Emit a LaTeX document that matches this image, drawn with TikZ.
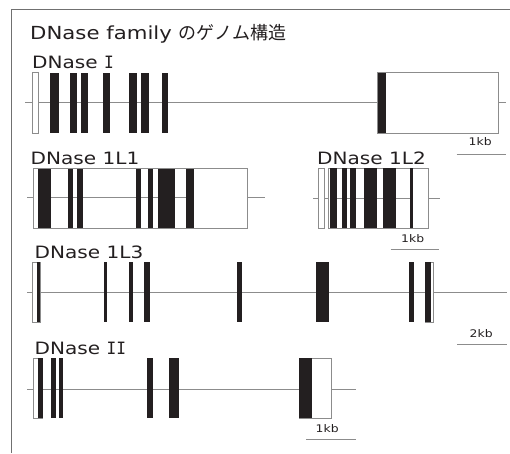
\documentclass[tikz,border=0pt]{standalone}
\usepackage{fontspec}
\setmainfont[FakeStretch=1.18]{DejaVu Sans}
\newfontfamily\jp{Noto Sans CJK JP}
\newfontfamily\romI[FakeStretch=0.95]{DejaVu Sans Mono}
\newcommand{\serifI}{{\romI I}}
\definecolor{ink}{HTML}{231F20}
\definecolor{intron}{HTML}{8C8C8C}
\definecolor{frame}{HTML}{707070}
\tikzset{
  exon/.style={fill=ink, draw=none},
  utr/.style={draw=intron, fill=white, line width=0.7pt},
  genebox/.style={draw=intron, line width=0.7pt},
  intronline/.style={draw=intron, line width=0.9pt},
  scalebar/.style={draw=intron, line width=0.9pt},
  genelabel/.style={anchor=base west, inner sep=0pt, text=ink, font=\fontsize{17}{20}\selectfont},
  scalelabel/.style={anchor=base west, inner sep=0pt, text=ink, font=\fontsize{10.5}{12}\selectfont},
  titlelabel/.style={anchor=base west, inner sep=0pt, text=ink, font=\fontsize{18}{22}\selectfont},
}
\begin{document}
\begin{tikzpicture}[x=1pt,y=-1pt]
\useasboundingbox (0,0) rectangle (510,453);
% frame
\draw[frame, line width=0.9pt] (11.5,453) -- (11.5,9.5) -- (510,9.5);
% title
\node[titlelabel] (title) at (30,39) {DNase family {\jp のゲノム構造}};

% ---------- DNase I ----------
\node[genelabel] (l1) at (32,68.5) {DNase \serifI};
\draw[intronline] (25,102.7) -- (506,102.7);
\draw[utr] (32.7,72.5) rectangle (38.3,133);
\draw[utr] (377.5,72.5) rectangle (498.3,133);
\foreach \a/\b in {50/59, 70.3/76.7, 81.3/88, 103.3/109.7, 129.3/136.7, 141/149, 162/168, 377.5/386}
  \fill[exon] (\a,72.5) rectangle (\b,133);
\node[scalelabel] (s1) at (468.5,145) {1kb};
\draw[scalebar] (456.7,154.3) -- (505.7,154.3);

% ---------- DNase 1L1 ----------
\node[genelabel] (l2) at (30.5,164.3) {DNase 1L1};
\draw[intronline] (27.3,197.7) -- (264.7,197.7);
\fill[white] (33,168.5) rectangle (37.7,228.3);
\fill[white] (194,168.5) rectangle (247.3,228.3);
\draw[genebox] (33,168.5) rectangle (247.3,228.3);
\foreach \a/\b in {37.7/51, 68.3/73.3, 77.3/83.3, 135.7/141.3, 148/153.3, 158.3/175, 185.7/194}
  \fill[exon] (\a,168.5) rectangle (\b,228.3);

% ---------- DNase 1L2 ----------
\node[genelabel] (l3) at (317,164) {DNase 1L2};
\draw[intronline] (313,198.7) -- (439.7,198.7);
\draw[utr] (318.3,168.3) rectangle (324,228.3);
\fill[white] (328.3,168.3) rectangle (330,228.3);
\fill[white] (413,168.3) rectangle (428.3,228.3);
\draw[genebox] (328.3,168.3) rectangle (428.3,228.3);
\foreach \a/\b in {330/336.7, 342/347, 350/356, 364.3/376.7, 383/395.7, 410/413}
  \fill[exon] (\a,168.3) rectangle (\b,228.3);
\node[scalelabel] (s2) at (401,242) {1kb};
\draw[scalebar] (390.7,249.5) -- (439.3,249.5);

% ---------- DNase 1L3 ----------
\node[genelabel] (l4) at (34.5,258.3) {DNase 1L3};
\draw[intronline] (27,292.7) -- (507,292.7);
\draw[utr] (32.7,262.3) rectangle (40,322.3);
\draw[utr] (425,262.3) rectangle (433.7,322.3);
\foreach \a/\b in {36.7/40, 104/107.3, 129.3/133.3, 144.3/150, 236.7/242.3, 316/329, 408.5/413.5, 425/431.3}
  \fill[exon] (\a,262.3) rectangle (\b,322.3);
\node[scalelabel] (s3) at (469.5,337) {2kb};
\draw[scalebar] (457.3,344.3) -- (506.7,344.3);

% ---------- DNase II ----------
\node[genelabel] (l5) at (34.5,354) {DNase \serifI\serifI};
\draw[intronline] (27,389.2) -- (356,389.2);
\draw[utr] (33,358.3) rectangle (42.5,418.3);
\draw[utr] (299,358.3) rectangle (331,418.3);
\foreach \a/\b in {37.7/42.5, 50.5/56, 59.3/63, 147/153.3, 168.7/179.3, 299/312}
  \fill[exon] (\a,358.3) rectangle (\b,418.3);
\node[scalelabel] (s4) at (315.5,432.3) {1kb};
\draw[scalebar] (306,439.3) -- (356,439.3);
\end{tikzpicture}
\end{document}
